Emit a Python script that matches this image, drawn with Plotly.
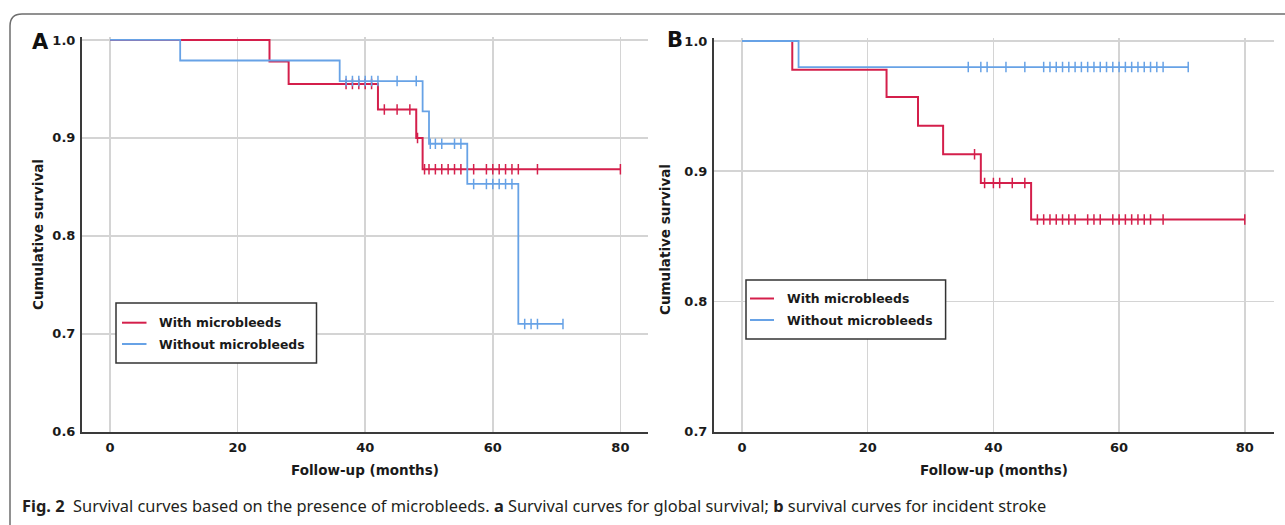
import plotly.graph_objects as go

# ---------------- data ----------------
# Panel A: global survival
a_with_times = [0, 25, 28, 42, 48, 49]
a_with_surv = [1.0, 0.978, 0.955, 0.929, 0.900, 0.868]
a_with_censor = [37, 38, 39, 40, 41, 43, 45, 47, 48.2, 49.3, 50, 51, 52, 53, 54, 55,
                 57, 59, 60, 61, 62, 63, 64, 67, 80]

a_without_times = [0, 11, 36, 49, 50, 56, 64]
a_without_surv = [1.0, 0.979, 0.958, 0.927, 0.894, 0.853, 0.710]
a_without_censor = [37, 38, 39, 40, 41, 42, 45, 48, 50.2, 51, 52, 54, 55, 57, 59, 60,
                    61, 62, 63, 65, 66, 67, 71]

# Panel B: incident stroke
b_with_times = [0, 8, 23, 28, 32, 38, 46]
b_with_surv = [1.0, 0.978, 0.957, 0.935, 0.913, 0.891, 0.863]
b_with_censor = [37, 38.6, 40, 41, 43, 45, 47, 48, 49, 50, 51, 52, 53, 55, 56, 57, 59,
                 60, 61, 62, 63, 64, 65, 67, 80]

b_without_times = [0, 9]
b_without_surv = [1.0, 0.980]
b_without_censor = [36, 38, 39, 42, 45, 48, 49, 50, 51, 52, 53, 54, 55, 56, 57, 58, 59,
                    60, 61, 62, 63, 64, 65, 66, 67, 71]

group_names = ["With microbleeds", "Without microbleeds"]
x_ticks = [0, 20, 40, 60, 80]
a_y_ticks = [0.6, 0.7, 0.8, 0.9, 1.0]
b_y_ticks = [0.7, 0.8, 0.9, 1.0]

# ---------------- style ----------------
W, H = 1285, 525
RED = "#d41f4b"
BLUE = "#67a2e6"
GRID = "#d4d4d4"
AXIS = "#3a3a3a"
LABEL_FONT = "DejaVu Sans"
TEXT = "#1a1a1a"

def px_x(p):
    return p / W

def px_y(p):
    return 1 - p / H

def surv_at(times, surv, t):
    s = surv[0]
    for ti, si in zip(times, surv):
        if ti <= t:
            s = si
    return s

fig = go.Figure()

def add_group(times, surv, censor, color, name, xa, ya, width):
    end = max(censor)
    fig.add_trace(go.Scatter(
        x=list(times) + [end], y=list(surv) + [surv[-1]],
        mode="lines", line=dict(color=color, width=width, shape="hv"),
        name=name, xaxis=xa, yaxis=ya, showlegend=False, hoverinfo="skip"))
    fig.add_trace(go.Scatter(
        x=censor, y=[surv_at(times, surv, t) for t in censor],
        mode="markers", name=name,
        marker=dict(symbol="line-ns", size=7.5, line=dict(color=color, width=1.5)),
        xaxis=xa, yaxis=ya, showlegend=False, hoverinfo="skip"))

add_group(a_with_times, a_with_surv, a_with_censor, RED, group_names[0], "x", "y", 2)
add_group(a_without_times, a_without_surv, a_without_censor, BLUE, group_names[1], "x", "y", 1.8)
add_group(b_with_times, b_with_surv, b_with_censor, RED, group_names[0], "x2", "y2", 2)
add_group(b_without_times, b_without_surv, b_without_censor, BLUE, group_names[1], "x2", "y2", 1.8)

tickfont = dict(family=LABEL_FONT, size=13, color=TEXT, weight="bold")

def xaxis_cfg(domain, rng):
    return dict(domain=domain, range=rng, tickvals=x_ticks, ticktext=[str(v) for v in x_ticks],
                showgrid=True, gridcolor=GRID, gridwidth=1.5, zeroline=False,
                showline=True, linecolor=AXIS, linewidth=2, ticks="",
                tickfont=tickfont, ticklabelstandoff=3, fixedrange=True, automargin=False)

def yaxis_cfg(domain, rng, vals):
    return dict(domain=domain, range=rng, tickvals=vals, ticktext=[f"{v:.1f}" for v in vals],
                showgrid=True, gridcolor=GRID, gridwidth=1.5, zeroline=False,
                showline=True, linecolor=AXIS, linewidth=2, ticks="",
                tickfont=tickfont, ticklabelstandoff=2, fixedrange=True, automargin=False)

# Panel A geometry
a_x0_px, a_ppm = 110, 6.38
a_left, a_right = 82, 648
a_top_px, a_bot_px = 37, 431.7
# Panel B geometry
b_x0_px, b_ppm = 742, 6.285
b_left, b_right = 714, 1273.5
b_top_px, b_bot_px = 38, 431.7

fig.update_layout(
    width=W, height=H, margin=dict(l=0, r=0, t=0, b=0, pad=0, autoexpand=False),
    paper_bgcolor="white", plot_bgcolor="white", showlegend=False,
    xaxis=xaxis_cfg([px_x(a_left), px_x(a_right)],
                    [(a_left - a_x0_px) / a_ppm, (a_right - a_x0_px) / a_ppm]),
    yaxis=yaxis_cfg([px_y(a_bot_px), px_y(a_top_px)], [0.6, 1.003], a_y_ticks),
    xaxis2=dict(xaxis_cfg([px_x(b_left), px_x(b_right)],
                          [(b_left - b_x0_px) / b_ppm, (b_right - b_x0_px) / b_ppm]), anchor="y2"),
    yaxis2=dict(yaxis_cfg([px_y(b_bot_px), px_y(b_top_px)], [0.7, 1.0023], b_y_ticks), anchor="x2"),
)

title_font = dict(family=LABEL_FONT, size=13.5, color=TEXT, weight="bold")
legend_font = dict(family=LABEL_FONT, size=12.4, color=TEXT, weight="bold")
ann = []
shapes = []
ann.append(dict(text="Follow-up (months)", x=px_x((a_left + a_right) / 2), y=px_y(470),
                xref="paper", yref="paper", showarrow=False, font=title_font,
                xanchor="center", yanchor="middle"))
ann.append(dict(text="Follow-up (months)", x=px_x((b_left + b_right) / 2), y=px_y(470),
                xref="paper", yref="paper", showarrow=False, font=title_font,
                xanchor="center", yanchor="middle"))
ann.append(dict(text="Cumulative survival", x=px_x(38), y=px_y(235), textangle=-90,
                xref="paper", yref="paper", showarrow=False, font=title_font,
                xanchor="center", yanchor="middle"))
ann.append(dict(text="Cumulative survival", x=px_x(665), y=px_y(240), textangle=-90,
                xref="paper", yref="paper", showarrow=False, font=title_font,
                xanchor="center", yanchor="middle"))
ann.append(dict(text="A", x=px_x(40), y=px_y(42), xref="paper", yref="paper", showarrow=False,
                font=dict(family=LABEL_FONT, size=21, color="#111111", weight="bold"),
                xanchor="center", yanchor="middle"))
ann.append(dict(text="B", x=px_x(675), y=px_y(40), xref="paper", yref="paper", showarrow=False,
                font=dict(family=LABEL_FONT, size=21, color="#111111", weight="bold"),
                xanchor="center", yanchor="middle"))
ann.append(dict(text="<b>Fig. 2</b>&nbsp;&nbsp;Survival curves based on the presence of microbleeds. "
                     "<b>a</b> Survival curves for global survival; <b>b</b> survival curves for incident stroke",
                x=px_x(20), y=px_y(505), xref="paper", yref="paper", showarrow=False,
                font=dict(family="Noto Sans", size=16.4, color="#231f20"),
                xanchor="left", yanchor="middle"))

# legends (drawn boxes, sample lines and text labels)
def add_legend(box, line_x, rows, text_x):
    x0, y0, x1, y1 = box
    shapes.append(dict(type="rect", xref="paper", yref="paper",
                       x0=px_x(x0), x1=px_x(x1), y0=px_y(y1), y1=px_y(y0),
                       line=dict(color="#333333", width=1.5), fillcolor="white", layer="above"))
    for (name, color, yy) in rows:
        shapes.append(dict(type="line", xref="paper", yref="paper",
                           x0=px_x(line_x[0]), x1=px_x(line_x[1]), y0=px_y(yy), y1=px_y(yy),
                           line=dict(color=color, width=2), layer="above"))
        ann.append(dict(text=name, x=px_x(text_x), y=px_y(yy), xref="paper", yref="paper",
                        showarrow=False, font=legend_font, xanchor="left", yanchor="middle"))

add_legend((116, 303, 316.5, 363), (122, 146.5),
           [(group_names[0], RED, 322.7), (group_names[1], BLUE, 344)], 157)
add_legend((746, 280, 945.6, 339), (750, 774),
           [(group_names[0], RED, 298.5), (group_names[1], BLUE, 320)], 785)

r = 12
shapes.append(dict(type="path", xref="paper", yref="paper",
                   path=(f"M {px_x(10)},{px_y(540)} L {px_x(10)},{px_y(14 + r)} "
                         f"Q {px_x(10)},{px_y(14)} {px_x(10 + r)},{px_y(14)} L {px_x(1300)},{px_y(14)}"),
                   line=dict(color="#6e6e6e", width=1.5), layer="above"))

fig.update_layout(annotations=ann, shapes=shapes)

fig.write_html("out.html", config={"displayModeBar": False, "staticPlot": True},
               post_script="document.body.style.margin='0';document.body.style.padding='0';"
                           "document.body.style.overflow='hidden';")
